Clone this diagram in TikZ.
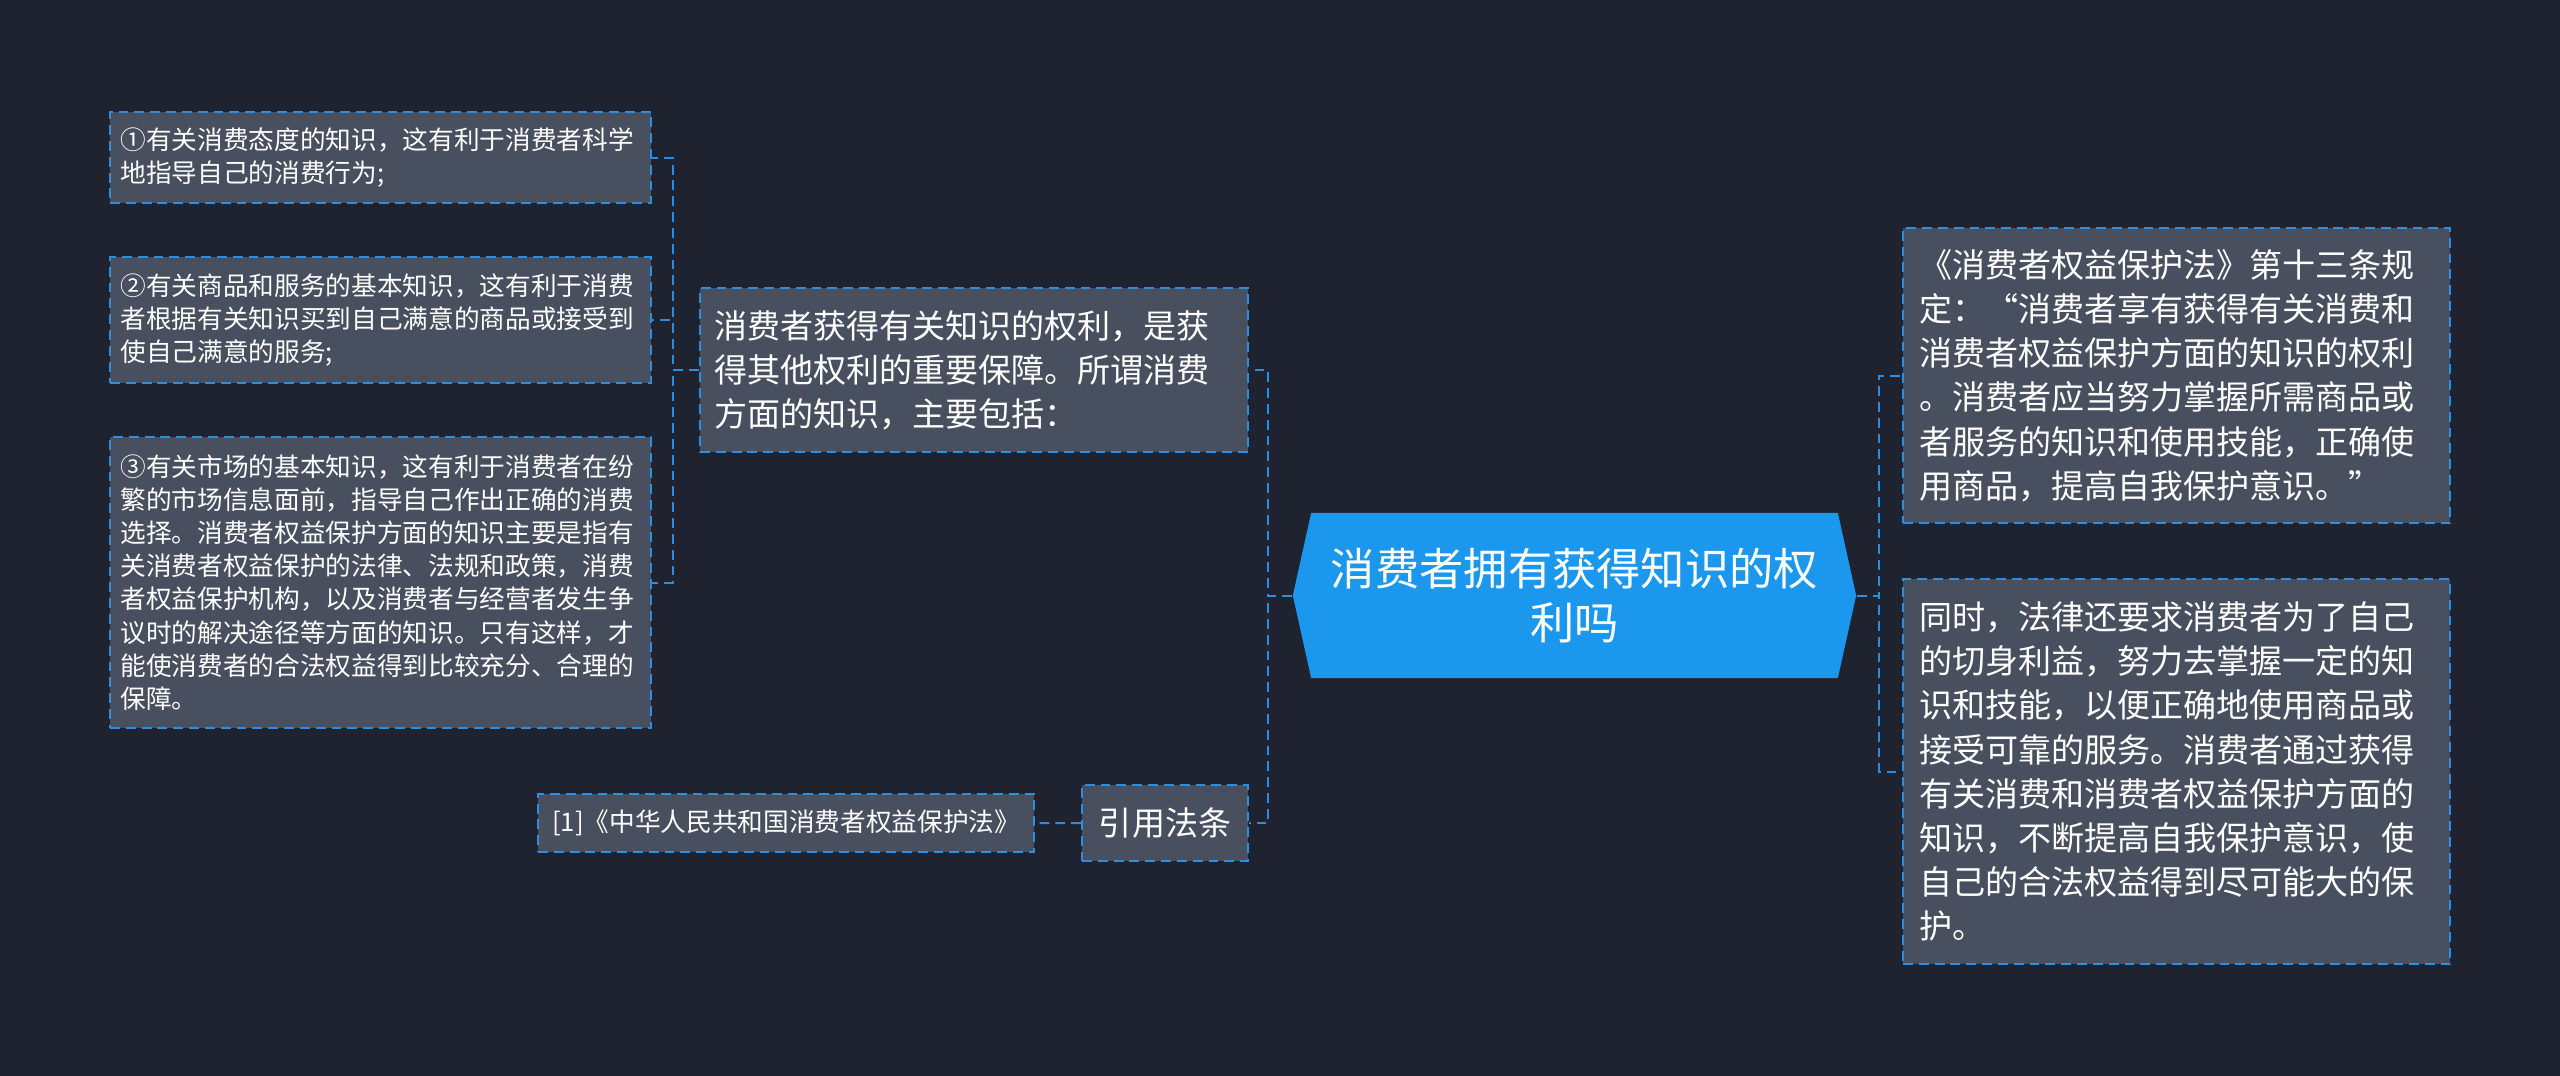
\documentclass[tikz,border=0pt]{standalone}
\usepackage{fontspec}
\newfontfamily\cjk{Noto Sans CJK SC}
\usetikzlibrary{shapes.symbols}
\definecolor{bgnavy}{HTML}{1F2330}
\definecolor{boxgray}{HTML}{484F5E}
\definecolor{linkblue}{HTML}{2A8FE0}
\definecolor{rootblue}{HTML}{1C97EE}

\begin{document}
\begin{tikzpicture}[x=0.01cm, y=-0.01cm,
    smalltext/.style={font=\cjk\fontsize{7.3}{9.4}\selectfont},
    midtext/.style={font=\cjk\fontsize{9.4}{12.55}\selectfont},
    topic/.style={draw=linkblue, fill=boxgray, text=white, line width=0.57pt,
        dash pattern=on 2.8pt off 1.7pt, anchor=north west, align=left, inner ysep=0pt},
    link/.style={draw=linkblue, line width=0.57pt, dash pattern=on 2.8pt off 1.7pt},
    rootnode/.style={signal, signal to=west and east, signal pointer angle=155,
        fill=rootblue, text=white, align=center, inner sep=0pt,
        minimum width=5.63cm, minimum height=1.65cm,
        font=\cjk\fontsize{12.6}{15.3}\selectfont}
]
\fill[bgnavy] (0,0) rectangle (2560,1076);
\useasboundingbox (0,0) rectangle (2560,1076);

\node[rootnode] (root) at (1574.5, 595.5) {消费者拥有获得知识的权\\利吗};

\node[topic, midtext, text width=5.2cm, inner xsep=0.14cm, minimum height=1.64cm] (mid) at (699, 287)
    {消费者获得有关知识的权利，是获\\得其他权利的重要保障。所谓消费\\方面的知识，主要包括：};
\node[topic, midtext, align=center, minimum width=1.66cm, minimum height=0.76cm] (ref) at (1081, 784) {引用法条};
\node[topic, smalltext, inner xsep=0.12cm, minimum width=4.96cm, minimum height=0.58cm] (law) at (537, 793)
    {[1]《中华人民共和国消费者权益保护法》};

\node[topic, smalltext, text width=5.2cm, inner xsep=0.105cm, minimum height=0.91cm] (c1) at (109, 111)
    {①有关消费态度的知识，这有利于消费者科学\\地指导自己的消费行为;};
\node[topic, smalltext, text width=5.2cm, inner xsep=0.105cm, minimum height=1.26cm] (c2) at (109, 256)
    {②有关商品和服务的基本知识，这有利于消费\\者根据有关知识买到自己满意的商品或接受到\\使自己满意的服务;};
\node[topic, smalltext, text width=5.2cm, inner xsep=0.105cm, minimum height=2.91cm] (c3) at (109, 436)
    {③有关市场的基本知识，这有利于消费者在纷\\繁的市场信息面前，指导自己作出正确的消费\\选择。消费者权益保护方面的知识主要是指有\\关消费者权益保护的法律、法规和政策，消费\\者权益保护机构，以及消费者与经营者发生争\\议时的解决途径等方面的知识。只有这样，才\\能使消费者的合法权益得到比较充分、合理的\\保障。};

\node[topic, midtext, text width=5.15cm, inner xsep=0.16cm, minimum height=2.95cm] (r1) at (1902, 227)
    {《消费者权益保护法》第十三条规\\定：“消费者享有获得有关消费和\\消费者权益保护方面的知识的权利\\。消费者应当努力掌握所需商品或\\者服务的知识和使用技能，正确使\\用商品，提高自我保护意识。”};
\node[topic, midtext, text width=5.15cm, inner xsep=0.16cm, minimum height=3.85cm] (r2) at (1902, 578)
    {同时，法律还要求消费者为了自己\\的切身利益，努力去掌握一定的知\\识和技能，以便正确地使用商品或\\接受可靠的服务。消费者通过获得\\有关消费和消费者权益保护方面的\\知识，不断提高自我保护意识，使\\自己的合法权益得到尽可能大的保\\护。};

\draw[link] (mid.west) -- ++(-26,0) |- (c1.east);
\draw[link] (mid.west) -- ++(-26,0) |- (c2.east);
\draw[link] (mid.west) -- ++(-26,0) |- (c3.east);
\draw[link] (root.west) -- ++(-24,0) |- (mid.east);
\draw[link] (root.west) -- ++(-24,0) |- (ref.east);
\draw[link] (root.east) -- ++(22,0) |- (r1.west);
\draw[link] (root.east) -- ++(22,0) |- (r2.west);
\draw[link] (ref.west) -- (law.east);

\end{tikzpicture}
\end{document}
